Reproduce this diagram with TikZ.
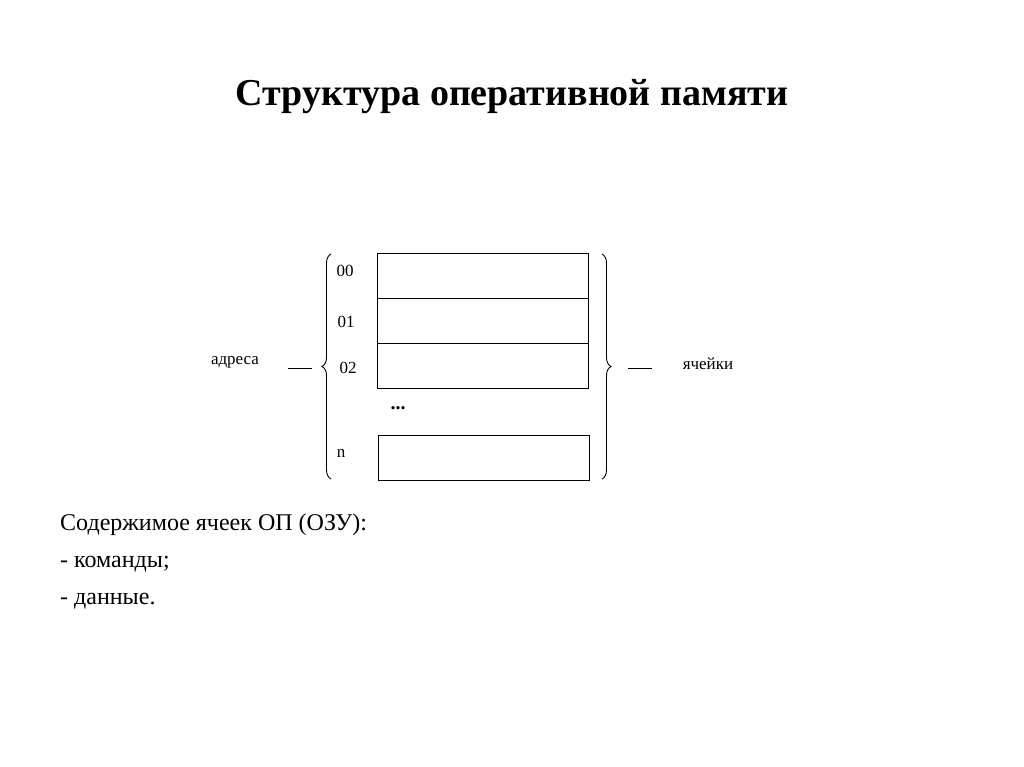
\documentclass[tikz,border=0pt]{standalone}
\usepackage{fontspec}
\setmainfont{Liberation Serif}
\usetikzlibrary{decorations.pathreplacing}
\begin{document}
\begin{tikzpicture}[x=1pt,y=-1pt,
  cell/.style={draw,line width=0.9pt,minimum width=211pt,minimum height=45pt,inner sep=0pt},
  small/.style={font=\fontsize{17}{20}\selectfont,inner sep=0pt},
  body/.style={font=\fontsize{24}{28}\selectfont,anchor=west,inner sep=0pt},
  br/.style={decorate,decoration={brace,amplitude=9pt},line width=0.9pt}]
\useasboundingbox (0,0) rectangle (1024,767);
\node[font=\bfseries\fontsize{38}{44}\selectfont] (title) at (512,97) {Структура оперативной памяти};
\node[cell] (c0) at (482.5,275.5) {};
\node[cell] (c1) at (482.5,320.5) {};
\node[cell] (c2) at (482.5,366) {};
\node[cell] (cn) at (483.5,457.5) {};
\node[small] (l0) at (345,271) {00};
\node[small] (l1) at (346,322) {01};
\node[small] (l2) at (348,368) {02};
\node[small] (ln) at (341,453) {n};
\node[font=\bfseries\fontsize{20}{24}\selectfont,inner sep=0pt] (dots) at (398,408) {...};
\draw[br] (331,479) -- (331,254);
\draw[br] (602,254) -- (602,479);
\node[small] (adr) at (235,362) {адреса};
\node[small] (cells) at (708,364) {ячейки};
\coordinate (a1) at (288,368); \coordinate (a2) at (312,368);
\coordinate (b1) at (628,368); \coordinate (b2) at (652,368);
\draw[line width=0.9pt] (a1) -- (a2);
\draw[line width=0.9pt] (b1) -- (b2);
\node[body] (t1) at (60,525) {Содержимое ячеек ОП (ОЗУ):};
\node[body] (t2) at (60,564) {- команды;};
\node[body] (t3) at (60,601) {- данные.};
\end{tikzpicture}
\end{document}
